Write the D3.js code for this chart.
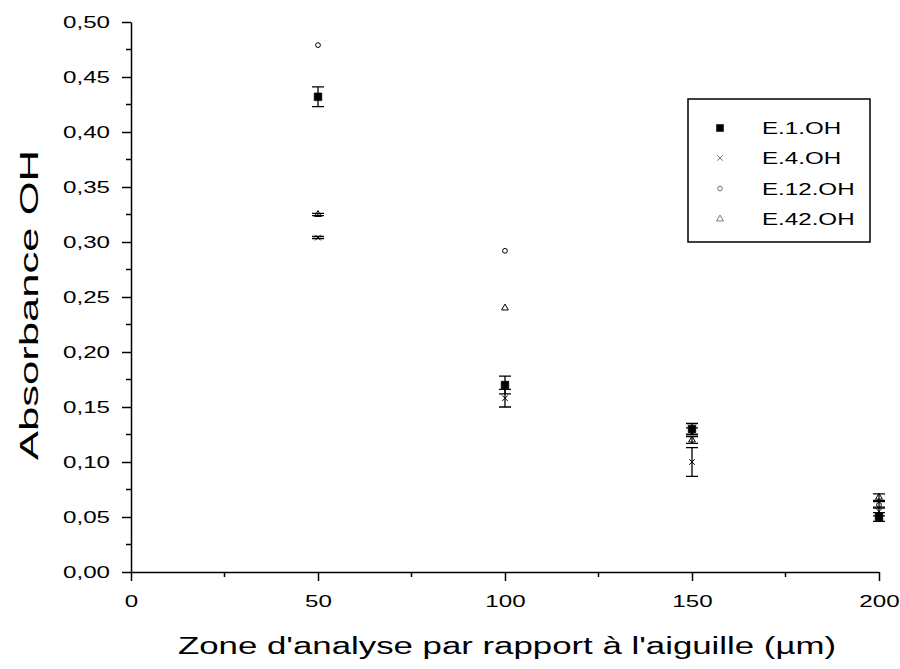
<!DOCTYPE html>
<html><head><meta charset="utf-8">
<script src="https://cdn.jsdelivr.net/npm/d3@7"></script>
<style>
html,body{margin:0;padding:0;background:#fff;}
svg{display:block;font-family:"Liberation Sans",Arial,sans-serif;}
</style></head>
<body>
<svg id="chart" width="900" height="669"></svg>
<script>
// ---- data ----
const xPositions = [50, 100, 150, 200];
const seriesNames = ["E.1.OH", "E.4.OH", "E.12.OH", "E.42.OH"];
const e1Values  = [0.432, 0.170, 0.130, 0.050];
const e1Errors  = [0.009, 0.008, 0.005, 0.004];
const e4Values  = [0.304, 0.158, 0.100, 0.055];
const e4Errors  = [0.001, 0.008, 0.013, 0.004];
const e12Values = [0.479, 0.292, 0.128, 0.061];
const e12Errors = [0, 0, 0.003, 0.003];
const e42Values = [0.325, 0.240, 0.120, 0.068];
const e42Errors = [0.001, 0, 0.003, 0.003];
const xTickValues = [0, 50, 100, 150, 200];
const xMinorTicks = [25, 75, 125, 175];
const yTickValues = [0, 0.05, 0.10, 0.15, 0.20, 0.25, 0.30, 0.35, 0.40, 0.45, 0.50];
const yMinorTicks = [0.025, 0.075, 0.125, 0.175, 0.225, 0.275, 0.325, 0.375, 0.425, 0.475];
const xTitle = "Zone d'analyse par rapport à l'aiguille (µm)";
const yTitle = "Absorbance OH";

const series = [
  {name: seriesNames[0], values: e1Values,  errors: e1Errors,  symbol: d3.symbolSquare,   size: 60, fill: "#000"},
  {name: seriesNames[1], values: e4Values,  errors: e4Errors,  symbol: d3.symbolX,        size: 22, fill: "none"},
  {name: seriesNames[2], values: e12Values, errors: e12Errors, symbol: d3.symbolCircle,   size: 18, fill: "none"},
  {name: seriesNames[3], values: e42Values, errors: e42Errors, symbol: d3.symbolTriangle, size: 20, fill: "none"}
];

const svg = d3.select("#chart");
const x = d3.scaleLinear().domain([0, 200]).range([131, 879]);
const y = d3.scaleLinear().domain([0, 0.5]).range([572, 22]);
const STRETCH = 1.42;

function stretch(sel, f) {
  sel.each(function() {
    const w = this.getComputedTextLength();
    d3.select(this).attr("textLength", w * f).attr("lengthAdjust", "spacingAndGlyphs");
  });
}

// y axis
const yAxis = d3.axisLeft(y).tickValues(yTickValues).tickSize(9).tickSizeOuter(0).tickPadding(12)
  .tickFormat(d => d3.format(".2f")(d).replace(".", ","));
const gy = svg.append("g").attr("transform", `translate(${x(0)},0)`).call(yAxis);
gy.selectAll("text").attr("font-size", 17).attr("fill", "#000").attr("font-family", "Liberation Sans, Arial, sans-serif");
gy.selectAll("line,path").attr("stroke", "#000").attr("stroke-width", 1.5);
stretch(gy.selectAll("text"), STRETCH);
gy.selectAll(".minor").data(yMinorTicks).enter().append("line")
  .attr("x1", 0).attr("x2", -5).attr("y1", d => y(d)).attr("y2", d => y(d))
  .attr("stroke", "#000").attr("stroke-width", 1.5);

// x axis
const xAxis = d3.axisBottom(x).tickValues(xTickValues).tickSize(9).tickSizeOuter(0).tickPadding(14)
  .tickFormat(d3.format("d"));
const gx = svg.append("g").attr("transform", `translate(0,${y(0)})`).call(xAxis);
gx.selectAll("text").attr("font-size", 17).attr("fill", "#000").attr("font-family", "Liberation Sans, Arial, sans-serif");
gx.selectAll("line,path").attr("stroke", "#000").attr("stroke-width", 1.5);
stretch(gx.selectAll("text"), STRETCH);
gx.selectAll(".minor").data(xMinorTicks).enter().append("line")
  .attr("x1", d => x(d)).attr("x2", d => x(d)).attr("y1", 0).attr("y2", 5)
  .attr("stroke", "#000").attr("stroke-width", 1.5);

// titles
svg.append("text").attr("x", 507).attr("y", 654).attr("text-anchor", "middle")
  .attr("font-size", 23).attr("fill", "#000")
  .attr("textLength", 658).attr("lengthAdjust", "spacingAndGlyphs").text(xTitle);
svg.append("text").attr("transform", "translate(38,305) rotate(-90)").attr("text-anchor", "middle")
  .attr("font-size", 26).attr("fill", "#000")
  .attr("textLength", 310).attr("lengthAdjust", "spacingAndGlyphs").text(yTitle);

// data
const CAP = 6;
series.forEach(s => {
  const g = svg.append("g");
  const pts = xPositions.map((xv, i) => ({x: xv, v: s.values[i], e: s.errors[i]}));
  g.selectAll(".err").data(pts.filter(d => d.e > 0)).enter().append("path")
    .attr("d", d => {
      const px = x(d.x), y1 = y(d.v + d.e), y2 = y(d.v - d.e);
      return `M${px},${y1}V${y2}M${px - CAP},${y1}H${px + CAP}M${px - CAP},${y2}H${px + CAP}`;
    })
    .attr("stroke", "#000").attr("stroke-width", 1.3).attr("fill", "none");
  g.selectAll(".pt").data(pts).enter().append("path")
    .attr("transform", d => `translate(${x(d.x)},${y(d.v)})`)
    .attr("d", d3.symbol().type(s.symbol).size(s.size))
    .attr("fill", s.fill).attr("stroke", "#000").attr("stroke-width", s.fill === "none" ? 1 : 0.5);
});

// legend
const legend = svg.append("g");
legend.append("rect").attr("x", 688).attr("y", 99).attr("width", 182).attr("height", 143)
  .attr("fill", "#fff").attr("stroke", "#000").attr("stroke-width", 1.5);
const rowBase = [134, 164, 194.5, 225];
series.forEach((s, i) => {
  legend.append("path").attr("transform", `translate(720,${rowBase[i] - 6})`)
    .attr("d", d3.symbol().type(s.symbol).size(s === series[0] ? 50 : s.size))
    .attr("fill", s.fill).attr("stroke", s.fill === "none" ? "#555" : "#000").attr("stroke-width", s.fill === "none" ? 0.8 : 0.5);
  const t = legend.append("text").attr("x", 762).attr("y", rowBase[i]).attr("font-size", 17)
    .attr("fill", "#000").text(s.name);
  stretch(t, STRETCH);
});
</script>
</body></html>
